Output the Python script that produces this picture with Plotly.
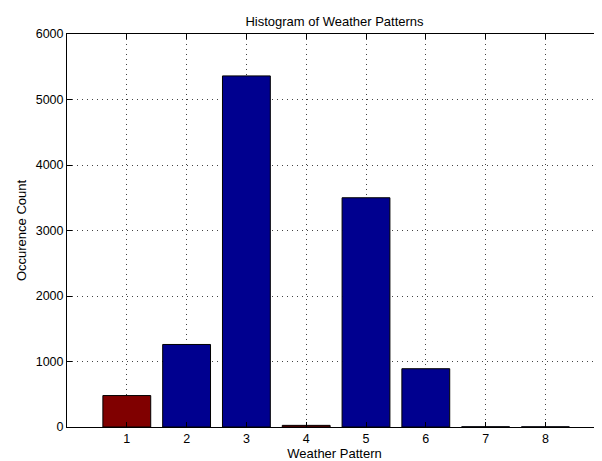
import plotly.graph_objects as go

patterns = [1, 2, 3, 4, 5, 6, 7, 8]
counts = [480, 1260, 5360, 25, 3500, 890, 3, 2]
bar_colors = ["#800000", "#00008F", "#00008F", "#800000", "#00008F", "#00008F", "#00008F", "#00008F"]
y_ticks = [0, 1000, 2000, 3000, 4000, 5000, 6000]

fig = go.Figure()
fig.add_trace(go.Bar(
    x=patterns, y=counts, width=0.8,
    marker=dict(color=bar_colors, line=dict(color="black", width=1)),
))

font = "Liberation Sans, Arial, Helvetica, sans-serif"
grid = dict(showgrid=True, gridcolor="#444", griddash="1px,4px", gridwidth=1)
# page body has an 8px margin, so the figure is placed at (8, 8)
fig.update_layout(
    width=594, height=453,
    margin=dict(l=59, r=0, t=26, b=34, autoexpand=False),
    paper_bgcolor="white", plot_bgcolor="white",
    font=dict(family=font, size=12.5, color="black"),
    showlegend=False,
    title=dict(text="Histogram of Weather Patterns", x=0.5, xanchor="center",
               xref="paper", y=1, yref="paper", yanchor="bottom", pad=dict(b=8),
               font=dict(size=13, family=font, color="black")),
    xaxis=dict(range=[0, (602 - 67) / 59.8], tickmode="array", tickvals=patterns,
               ticks="inside", ticklen=5, tickcolor="black", showline=True,
               linecolor="black", linewidth=1, mirror="ticks", automargin=False,
               zeroline=False, title=dict(text="Weather Pattern", standoff=1,
                                          font=dict(size=13)), **grid),
    yaxis=dict(range=[0, 6000], tickmode="array", tickvals=y_ticks,
               ticks="inside", ticklen=5, tickcolor="black", showline=True,
               linecolor="black", linewidth=1, automargin=False,
               zeroline=False, title=dict(text="Occurence Count", standoff=6,
                                          font=dict(size=13)), **grid),
)
fig.write_html("out.html")
